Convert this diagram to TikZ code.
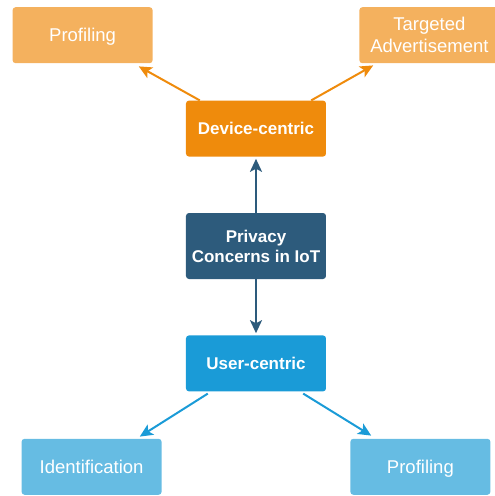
\documentclass[tikz,border=0pt]{standalone}
\usepackage{fontspec}
\setmainfont{Liberation Sans}
\usetikzlibrary{arrows.meta, positioning}

\definecolor{lightorange}{HTML}{F4B15E}
\definecolor{deviceorange}{HTML}{EF8B0C}
\definecolor{privblue}{HTML}{2D5B7C}
\definecolor{userblue}{HTML}{1A9BD7}
\definecolor{lightblue}{HTML}{66BCE3}

\begin{document}
\begin{tikzpicture}[
      node distance=56pt,
      box/.style={
          rectangle,
          rounded corners=3pt,
          align=center,
          minimum width=140pt,
          minimum height=56pt,
          text=white,
          font=\fontsize{18.5}{22}\selectfont
        },
      leaf/.style={
          box,
          text height=13.2pt,
          text depth=0pt
        },
      mainbox/.style={
          box,
          font=\fontsize{17}{20}\selectfont\bfseries
        },
      arrow/.style={
          -{Stealth[length=13pt,width=12pt,inset=3pt]},
          line width=2pt
        }
    ]

    \useasboundingbox (-256pt,-250pt) rectangle (239pt,246pt);

    % Nodes
    \node[mainbox, fill=privblue, minimum height=66pt] (privacy) {Privacy\\Concerns in IoT};
    \node[mainbox, fill=deviceorange, above=of privacy, text height=12.2pt, text depth=0pt] (device) {Device-centric};
    \node[mainbox, fill=userblue, below=of privacy, text height=12.2pt, text depth=0pt] (user) {User-centric};
    \node[leaf, fill=lightorange, above left=37pt and 33pt of device] (profdev) {Profiling};
    \node[box, fill=lightorange, above right=37pt and 33pt of device] (advert) {Targeted\\Advertisement};
    \node[leaf, fill=lightblue, below left=47pt and 24pt of user] (ident) {Identification};
    \node[leaf, fill=lightblue, below right=47pt and 24pt of user] (profuser) {Profiling};

    % Arrows
    \draw[arrow, privblue, shorten >=2pt] (privacy) -- (device);
    \draw[arrow, privblue, shorten >=2pt] (privacy) -- (user);
    \draw[arrow, deviceorange] ([xshift=14pt]device.north west) -- ([xshift=-14pt,yshift=-3pt]profdev.south east);
    \draw[arrow, deviceorange] ([xshift=-15pt]device.north east) -- ([xshift=14pt,yshift=-2pt]advert.south west);
    \draw[arrow, userblue] ([xshift=22pt,yshift=-2pt]user.south west) -- ([xshift=-22pt,yshift=2pt]ident.north east);
    \draw[arrow, userblue] ([xshift=-23pt,yshift=-2pt]user.south east) -- ([xshift=21pt,yshift=3pt]profuser.north west);

  \end{tikzpicture}
\end{document}
